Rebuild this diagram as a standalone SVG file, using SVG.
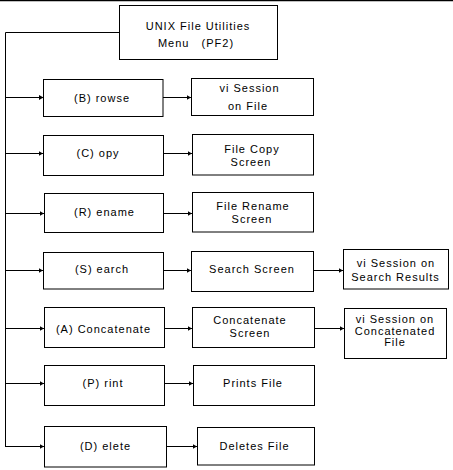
<svg xmlns="http://www.w3.org/2000/svg" width="453" height="470" viewBox="0 0 453 470">
<style>
rect{fill:#fff;stroke:#000;stroke-width:1}
text{font-family:"Liberation Sans",Arial,sans-serif;font-size:11px;letter-spacing:1px;text-anchor:middle;fill:#000}
.c line,.c path{stroke:#000;stroke-width:1;fill:none}
</style>
<defs>
<marker id="ah" markerWidth="5" markerHeight="6" refX="4.5" refY="3" orient="auto" markerUnits="userSpaceOnUse">
<path d="M0,0.5 L4.5,3 L0,5.5 Z" fill="#000"/>
</marker>
</defs>
<line x1="0" y1="0.5" x2="453" y2="0.5" stroke="#000" stroke-width="1.5"/>
<g class="c" id="connectors">
<path d="M119,32.5 H5.5 V447"/>
<line x1="5.5" y1="97.5" x2="43.5" y2="97.5" marker-end="url(#ah)"/>
<line x1="163" y1="97.5" x2="191" y2="97.5" marker-end="url(#ah)"/>
<line x1="5.5" y1="153.5" x2="43" y2="153.5" marker-end="url(#ah)"/>
<line x1="163" y1="153.5" x2="192" y2="153.5" marker-end="url(#ah)"/>
<line x1="5.5" y1="213.5" x2="44" y2="213.5" marker-end="url(#ah)"/>
<line x1="163" y1="213.5" x2="192" y2="213.5" marker-end="url(#ah)"/>
<line x1="5.5" y1="270.5" x2="43" y2="270.5" marker-end="url(#ah)"/>
<line x1="163" y1="270.5" x2="191" y2="270.5" marker-end="url(#ah)"/>
<line x1="313" y1="270.5" x2="343" y2="270.5" marker-end="url(#ah)"/>
<line x1="5.5" y1="328.5" x2="44" y2="328.5" marker-end="url(#ah)"/>
<line x1="164" y1="328.5" x2="192" y2="328.5" marker-end="url(#ah)"/>
<line x1="314" y1="328.5" x2="344" y2="328.5" marker-end="url(#ah)"/>
<line x1="5.5" y1="383.5" x2="44" y2="383.5" marker-end="url(#ah)"/>
<line x1="164" y1="383.5" x2="193" y2="383.5" marker-end="url(#ah)"/>
<line x1="5.5" y1="446.5" x2="44" y2="446.5" marker-end="url(#ah)"/>
<line x1="166" y1="446.5" x2="197" y2="446.5" marker-end="url(#ah)"/>
</g>
<g id="menu"><rect x="119.5" y="5.5" width="158" height="54"/><text x="198" y="29.5">UNIX File Utilities</text><text x="196" y="47" style="white-space:pre">Menu   (PF2)</text></g>
<g id="browse"><rect x="43.5" y="79.5" width="119.5" height="37"/><text x="102" y="102">(B) rowse</text></g>
<g id="vi-file"><rect x="191.5" y="78.5" width="122" height="37"/><text x="249.5" y="92">vi Session</text><text x="248" y="110">on File</text></g>
<g id="copy"><rect x="43.5" y="135.5" width="120" height="40"/><text x="98" y="157">(C) opy</text></g>
<g id="copy-screen"><rect x="192.5" y="134.5" width="121" height="40.5"/><text x="252" y="153">File Copy</text><text x="251" y="165.5">Screen</text></g>
<g id="rename"><rect x="44.5" y="193.5" width="119" height="39"/><text x="104.5" y="216">(R) ename</text></g>
<g id="rename-screen"><rect x="192.5" y="192.5" width="121" height="39.5"/><text x="253" y="210">File Rename</text><text x="252" y="223">Screen</text></g>
<g id="search"><rect x="43.5" y="252.5" width="120" height="36.5"/><text x="102" y="273">(S) earch</text></g>
<g id="search-screen"><rect x="191.5" y="251.5" width="122" height="40"/><text x="252" y="273">Search Screen</text></g>
<g id="vi-search"><rect x="343.5" y="249.5" width="105" height="39.5"/><text x="396" y="267">vi Session on</text><text x="395.5" y="281">Search Results</text></g>
<g id="concatenate"><rect x="44.5" y="307.5" width="120" height="40"/><text x="103.5" y="333">(A) Concatenate</text></g>
<g id="concat-screen"><rect x="192.5" y="307.5" width="122" height="40"/><text x="250" y="324">Concatenate</text><text x="250" y="337">Screen</text></g>
<g id="vi-concat"><rect x="344.5" y="308.5" width="102" height="50"/><text x="395" y="323">vi Session on</text><text x="395" y="334.5">Concatenated</text><text x="395" y="346">File</text></g>
<g id="print"><rect x="44.5" y="365.5" width="120" height="40"/><text x="103" y="387">(P) rint</text></g>
<g id="prints-file"><rect x="193.5" y="365.5" width="121" height="40"/><text x="253" y="387">Prints File</text></g>
<g id="delete"><rect x="44.5" y="426.5" width="122" height="40.5"/><text x="105.5" y="450">(D) elete</text></g>
<g id="deletes-file"><rect x="197.5" y="427.5" width="117" height="37.5"/><text x="254.5" y="450">Deletes File</text></g>
</svg>
